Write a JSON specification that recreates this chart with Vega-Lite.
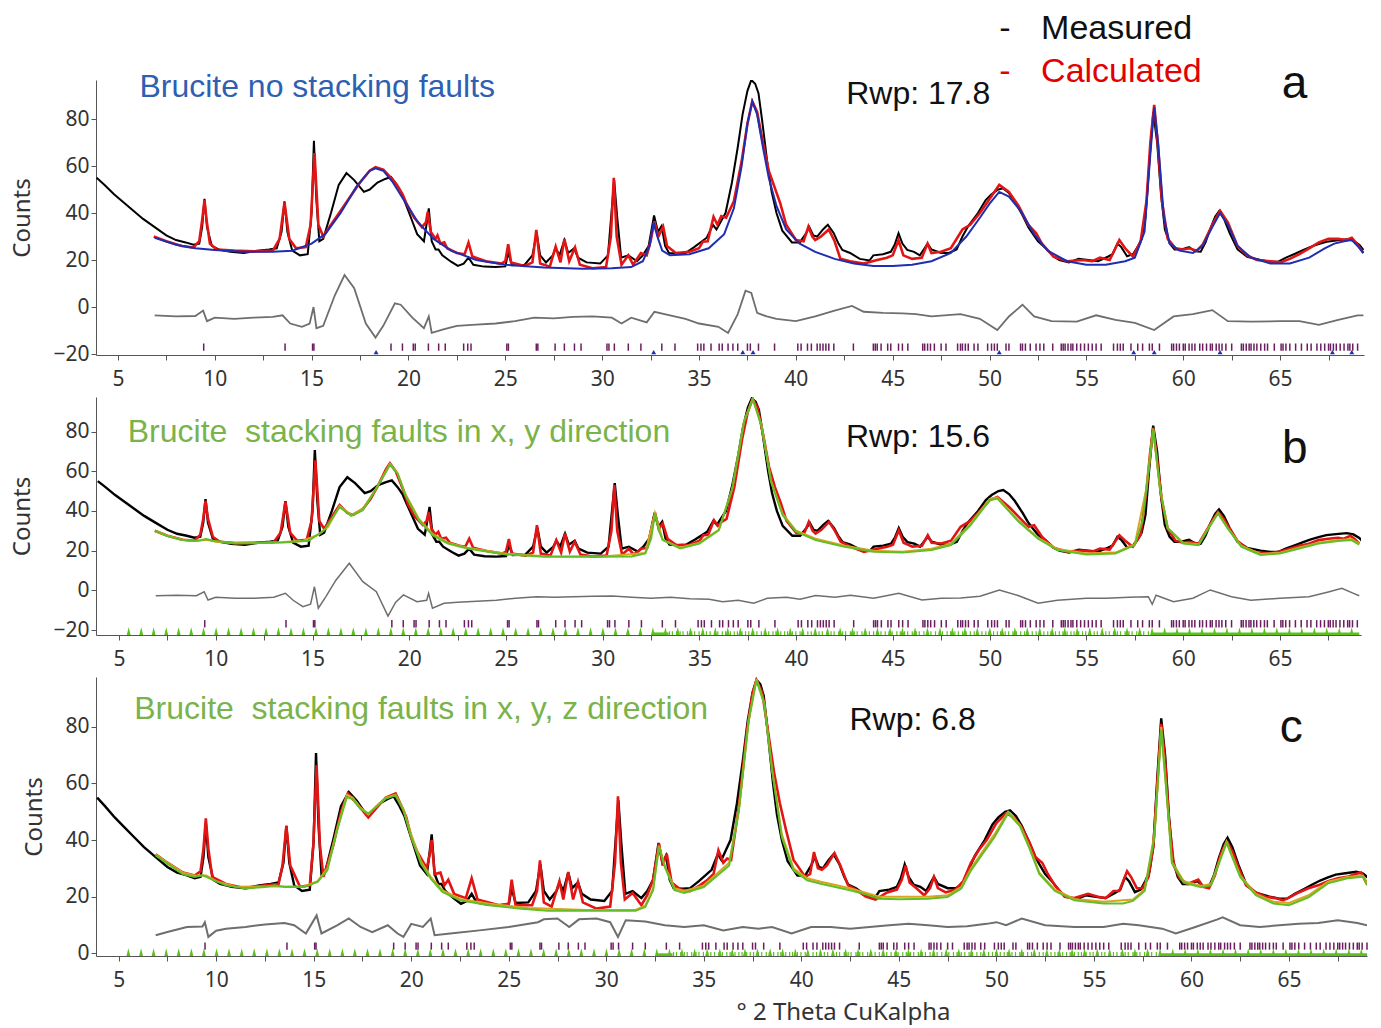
{
"$schema": "https://vega.github.io/schema/vega-lite/v6.json",
"background": "white",
"padding": {"left": 10, "top": 12, "right": 5, "bottom": 1},
"config": {
 "view": {"stroke": null},
 "axis": {"domainColor": "#555", "tickColor": "#555", "labelColor": "#333", "titleColor": "#333", "labelFont": "Noto Sans", "titleFont": "Noto Sans", "labelFontSize": 21, "titleFontSize": 24, "titleFontWeight": "normal", "grid": false, "tickSize": 5},
 "axisX": {"labelPadding": 8},
 "axisY": {"labelPadding": 2, "titlePadding": 18}
},
"datasets": {
 "meas": [{"x":3.9,"y":55},{"x":4.3,"y":52},{"x":4.8,"y":48},{"x":5.3,"y":44.5},{"x":5.8,"y":41},{"x":6.3,"y":37.5},{"x":6.9,"y":34},{"x":7.5,"y":30.5},{"x":8.0,"y":28.5},{"x":8.5,"y":27.5},{"x":8.9,"y":26.5},{"x":9.2,"y":27},{"x":9.35,"y":34},{"x":9.47,"y":46},{"x":9.6,"y":34},{"x":9.85,"y":26},{"x":10.2,"y":24.5},{"x":10.8,"y":23.5},{"x":11.5,"y":23},{"x":12.2,"y":24},{"x":12.8,"y":24.5},{"x":13.2,"y":25},{"x":13.45,"y":32},{"x":13.6,"y":45},{"x":13.75,"y":32},{"x":14.0,"y":24},{"x":14.4,"y":22},{"x":14.8,"y":22.5},{"x":15.0,"y":40},{"x":15.12,"y":70.7},{"x":15.25,"y":45},{"x":15.4,"y":28},{"x":15.6,"y":29},{"x":16.0,"y":40},{"x":16.4,"y":52},{"x":16.8,"y":57},{"x":17.2,"y":54},{"x":17.7,"y":49},{"x":18.0,"y":50},{"x":18.4,"y":53},{"x":18.8,"y":54.5},{"x":19.1,"y":55.4},{"x":19.4,"y":52},{"x":19.65,"y":48.5},{"x":19.85,"y":44},{"x":20.13,"y":38},{"x":20.45,"y":31},{"x":20.8,"y":28},{"x":20.95,"y":36},{"x":21.05,"y":42},{"x":21.2,"y":28},{"x":21.4,"y":24.5},{"x":21.55,"y":24.5},{"x":21.75,"y":22},{"x":22.2,"y":19.3},{"x":22.55,"y":17.5},{"x":22.85,"y":18.5},{"x":23.1,"y":21},{"x":23.35,"y":18},{"x":23.9,"y":17.2},{"x":24.5,"y":17},{"x":25.0,"y":17.3},{"x":25.15,"y":23},{"x":25.35,"y":17.8},{"x":26.0,"y":18},{"x":26.4,"y":22},{"x":26.62,"y":31.5},{"x":26.8,"y":22},{"x":27.1,"y":19},{"x":27.45,"y":22},{"x":27.6,"y":25},{"x":27.8,"y":22},{"x":28.05,"y":28.5},{"x":28.25,"y":23},{"x":28.55,"y":25},{"x":28.75,"y":21},{"x":29.2,"y":19},{"x":29.9,"y":18.5},{"x":30.3,"y":22},{"x":30.48,"y":40},{"x":30.62,"y":54},{"x":30.78,"y":38},{"x":30.98,"y":21},{"x":31.35,"y":22},{"x":31.8,"y":19.5},{"x":32.1,"y":22},{"x":32.4,"y":26},{"x":32.68,"y":39},{"x":32.88,"y":32},{"x":33.07,"y":34.5},{"x":33.25,"y":26},{"x":33.45,"y":23},{"x":33.9,"y":22.8},{"x":34.3,"y":23},{"x":34.75,"y":25.5},{"x":35.4,"y":29.5},{"x":35.72,"y":35},{"x":35.9,"y":33},{"x":36.1,"y":36},{"x":36.37,"y":40},{"x":36.7,"y":53},{"x":37.0,"y":68},{"x":37.25,"y":82},{"x":37.5,"y":92},{"x":37.7,"y":96.6},{"x":37.9,"y":95},{"x":38.07,"y":91},{"x":38.25,"y":80},{"x":38.4,"y":70},{"x":38.55,"y":60},{"x":38.75,"y":49},{"x":39.0,"y":40},{"x":39.3,"y":32.5},{"x":39.8,"y":27.5},{"x":40.2,"y":27.5},{"x":40.5,"y":31},{"x":40.7,"y":34},{"x":40.9,"y":30.5},{"x":41.1,"y":30},{"x":41.4,"y":33},{"x":41.65,"y":35},{"x":41.95,"y":31.5},{"x":42.2,"y":27},{"x":42.4,"y":24.3},{"x":42.8,"y":23},{"x":43.3,"y":20.5},{"x":43.8,"y":19.8},{"x":44.0,"y":22},{"x":44.5,"y":22.5},{"x":44.9,"y":23.5},{"x":45.1,"y":26.5},{"x":45.3,"y":31.4},{"x":45.5,"y":27},{"x":45.75,"y":24.3},{"x":46.1,"y":23.5},{"x":46.4,"y":22},{"x":46.6,"y":24.5},{"x":46.8,"y":27},{"x":47.0,"y":24.5},{"x":47.5,"y":23},{"x":47.9,"y":23},{"x":48.3,"y":24.5},{"x":48.6,"y":30},{"x":48.9,"y":34.5},{"x":49.4,"y":40},{"x":49.8,"y":45.5},{"x":50.1,"y":48},{"x":50.45,"y":50},{"x":50.7,"y":50.5},{"x":51.0,"y":48.5},{"x":51.3,"y":45},{"x":51.7,"y":39},{"x":52.0,"y":34},{"x":52.2,"y":31.5},{"x":52.5,"y":28},{"x":52.9,"y":25},{"x":53.3,"y":21.5},{"x":53.6,"y":20},{"x":54.1,"y":19},{"x":54.6,"y":20.5},{"x":55.1,"y":20},{"x":55.6,"y":19.5},{"x":56.1,"y":21.4},{"x":56.35,"y":22.5},{"x":56.6,"y":27},{"x":56.8,"y":25.5},{"x":57.1,"y":21.6},{"x":57.4,"y":22.5},{"x":57.65,"y":25.7},{"x":57.85,"y":29},{"x":58.05,"y":38},{"x":58.25,"y":62},{"x":58.45,"y":83},{"x":58.65,"y":70},{"x":58.85,"y":48},{"x":59.05,"y":33},{"x":59.3,"y":27},{"x":59.55,"y":24.5},{"x":59.9,"y":24.5},{"x":60.3,"y":25.5},{"x":60.6,"y":23.7},{"x":60.9,"y":23.5},{"x":61.15,"y":27.5},{"x":61.4,"y":33.5},{"x":61.65,"y":38.5},{"x":61.85,"y":40.8},{"x":62.1,"y":37.5},{"x":62.4,"y":31.4},{"x":62.8,"y":24.5},{"x":63.3,"y":21.4},{"x":64.0,"y":20},{"x":64.5,"y":19.3},{"x":64.9,"y":19.3},{"x":65.3,"y":21},{"x":65.8,"y":22.8},{"x":66.2,"y":24.3},{"x":66.6,"y":25.7},{"x":67.0,"y":26.8},{"x":67.4,"y":27.8},{"x":67.9,"y":28.3},{"x":68.45,"y":28.8},{"x":68.8,"y":28.2},{"x":69.1,"y":26.4},{"x":69.3,"y":24.3}],
 "calcA": [{"x":6.85,"y":30},{"x":7.5,"y":28},{"x":8.3,"y":26},{"x":8.9,"y":25.3},{"x":9.2,"y":28},{"x":9.35,"y":37},{"x":9.47,"y":45.5},{"x":9.58,"y":37},{"x":9.75,"y":27},{"x":10.1,"y":24.5},{"x":11,"y":24},{"x":12,"y":23.7},{"x":13,"y":24},{"x":13.35,"y":29},{"x":13.6,"y":44.5},{"x":13.85,"y":29},{"x":14.2,"y":25},{"x":14.7,"y":25.5},{"x":14.95,"y":35},{"x":15.15,"y":65.5},{"x":15.35,"y":35},{"x":15.6,"y":30},{"x":16,"y":35},{"x":16.5,"y":41},{"x":17,"y":47},{"x":17.5,"y":53},{"x":18.0,"y":58},{"x":18.3,"y":59.5},{"x":18.7,"y":58.5},{"x":19.1,"y":55},{"x":19.4,"y":52},{"x":19.7,"y":48},{"x":19.9,"y":44},{"x":20.3,"y":38},{"x":20.7,"y":34},{"x":20.9,"y":36},{"x":21.0,"y":40.5},{"x":21.15,"y":32},{"x":21.4,"y":29},{"x":21.5,"y":30.5},{"x":21.65,"y":27},{"x":21.85,"y":27.5},{"x":22.0,"y":25},{"x":22.5,"y":23},{"x":22.9,"y":22.5},{"x":23.1,"y":27.4},{"x":23.3,"y":21.5},{"x":24,"y":19.5},{"x":24.8,"y":18.5},{"x":25.0,"y":19.5},{"x":25.15,"y":26.7},{"x":25.3,"y":19},{"x":26.0,"y":17.5},{"x":26.4,"y":19},{"x":26.6,"y":32.8},{"x":26.8,"y":18.5},{"x":27.3,"y":17.2},{"x":27.6,"y":25.7},{"x":27.85,"y":19},{"x":28.05,"y":29},{"x":28.3,"y":19.5},{"x":28.6,"y":25.4},{"x":28.85,"y":18},{"x":29.5,"y":16.5},{"x":30.2,"y":17},{"x":30.45,"y":30},{"x":30.6,"y":55},{"x":30.75,"y":30},{"x":31.0,"y":18},{"x":31.35,"y":22},{"x":31.6,"y":18},{"x":32.0,"y":23},{"x":32.3,"y":22},{"x":32.5,"y":28},{"x":32.7,"y":36.5},{"x":32.9,"y":30},{"x":33.15,"y":34.2},{"x":33.35,"y":26},{"x":33.8,"y":23},{"x":34.5,"y":23.5},{"x":35.0,"y":25},{"x":35.2,"y":27.8},{"x":35.45,"y":28},{"x":35.75,"y":38.4},{"x":35.95,"y":35},{"x":36.15,"y":38.7},{"x":36.4,"y":38},{"x":36.8,"y":45},{"x":37.2,"y":62},{"x":37.5,"y":78},{"x":37.75,"y":87.5},{"x":38.0,"y":83},{"x":38.3,"y":70},{"x":38.6,"y":58},{"x":38.9,"y":51},{"x":39.2,"y":44},{"x":39.5,"y":35},{"x":40.0,"y":28.5},{"x":40.4,"y":28},{"x":40.65,"y":34.2},{"x":40.85,"y":30},{"x":41.0,"y":28.5},{"x":41.3,"y":30},{"x":41.7,"y":33},{"x":42.0,"y":28},{"x":42.3,"y":20.5},{"x":42.8,"y":19.5},{"x":43.5,"y":18.5},{"x":44.2,"y":20},{"x":44.7,"y":21},{"x":45.0,"y":22},{"x":45.3,"y":28.5},{"x":45.55,"y":22},{"x":46.0,"y":20.5},{"x":46.5,"y":21},{"x":46.8,"y":27},{"x":47.0,"y":23},{"x":47.5,"y":23.5},{"x":48.0,"y":25},{"x":48.6,"y":33},{"x":49.0,"y":35},{"x":49.5,"y":40},{"x":50.0,"y":46},{"x":50.5,"y":52},{"x":51.0,"y":49},{"x":51.5,"y":43},{"x":52.0,"y":35},{"x":52.4,"y":31.5},{"x":52.7,"y":27},{"x":53.3,"y":21.5},{"x":54.0,"y":19.5},{"x":54.8,"y":20},{"x":55.3,"y":19.5},{"x":55.7,"y":21},{"x":56.2,"y":20},{"x":56.7,"y":28.5},{"x":57.0,"y":25},{"x":57.4,"y":21.5},{"x":57.8,"y":28},{"x":58.1,"y":45},{"x":58.3,"y":70},{"x":58.5,"y":86},{"x":58.7,"y":68},{"x":58.9,"y":45},{"x":59.2,"y":29},{"x":59.6,"y":25},{"x":60.0,"y":24.5},{"x":60.3,"y":25},{"x":60.7,"y":24},{"x":61.0,"y":26.5},{"x":61.5,"y":35},{"x":61.9,"y":41},{"x":62.3,"y":36},{"x":62.8,"y":26},{"x":63.3,"y":22},{"x":63.8,"y":20},{"x":64.5,"y":19.5},{"x":65.0,"y":19},{"x":65.5,"y":20.5},{"x":66.0,"y":22.5},{"x":66.5,"y":25},{"x":67.0,"y":27.5},{"x":67.5,"y":29},{"x":68.0,"y":29},{"x":68.4,"y":28.5},{"x":68.7,"y":29.5},{"x":69.0,"y":26.5},{"x":69.3,"y":23}],
 "bkgA": [{"x":6.9,"y":29.5},{"x":8,"y":26.5},{"x":9,"y":25},{"x":10,"y":24.3},{"x":11.5,"y":23.5},{"x":13,"y":23.5},{"x":14,"y":24},{"x":15,"y":27},{"x":15.7,"y":31},{"x":16.5,"y":40},{"x":17.3,"y":51},{"x":18.0,"y":58},{"x":18.3,"y":59},{"x":18.7,"y":58},{"x":19.2,"y":53},{"x":19.8,"y":45},{"x":20.5,"y":36},{"x":21.3,"y":29},{"x":22.2,"y":24},{"x":23.5,"y":20},{"x":25,"y":18},{"x":27,"y":16.8},{"x":29,"y":16.3},{"x":30.5,"y":16.5},{"x":31.5,"y":17},{"x":32.1,"y":19.5},{"x":32.45,"y":26},{"x":32.65,"y":36},{"x":32.85,"y":30},{"x":33.1,"y":24},{"x":33.5,"y":22},{"x":34.5,"y":22.5},{"x":35.5,"y":25},{"x":36.3,"y":31},{"x":36.8,"y":42},{"x":37.2,"y":60},{"x":37.5,"y":78},{"x":37.75,"y":87.5},{"x":38.0,"y":82},{"x":38.3,"y":68},{"x":38.6,"y":55},{"x":39.0,"y":43},{"x":39.5,"y":33},{"x":40.2,"y":27},{"x":41,"y":23.5},{"x":42,"y":20.5},{"x":43,"y":18.5},{"x":44,"y":17.5},{"x":45,"y":17.5},{"x":46,"y":18},{"x":47,"y":19.5},{"x":48,"y":23},{"x":48.8,"y":30},{"x":49.5,"y":38},{"x":50.0,"y":44},{"x":50.5,"y":49},{"x":51.0,"y":47},{"x":51.6,"y":41},{"x":52.3,"y":31},{"x":53,"y":24},{"x":54,"y":19.5},{"x":55,"y":18},{"x":56,"y":18},{"x":57,"y":19.5},{"x":57.5,"y":21},{"x":58.0,"y":32},{"x":58.3,"y":65},{"x":58.5,"y":85},{"x":58.7,"y":70},{"x":59.0,"y":38},{"x":59.3,"y":27},{"x":59.8,"y":24},{"x":60.5,"y":23},{"x":61.0,"y":26},{"x":61.5,"y":34},{"x":61.9,"y":40},{"x":62.3,"y":35},{"x":62.8,"y":26},{"x":63.5,"y":21},{"x":64.5,"y":18.5},{"x":65.5,"y":18.5},{"x":66.5,"y":21},{"x":67.3,"y":25},{"x":67.8,"y":27},{"x":68.3,"y":28},{"x":68.7,"y":28.5},{"x":69.0,"y":26},{"x":69.3,"y":23}],
 "diffA": [{"x":6.9,"y":-3.5},{"x":8,"y":-4},{"x":9.0,"y":-3.8},{"x":9.4,"y":-1.5},{"x":9.6,"y":-6},{"x":10,"y":-4.5},{"x":11,"y":-5},{"x":12,"y":-4.5},{"x":13,"y":-4.2},{"x":13.5,"y":-3.5},{"x":13.9,"y":-7},{"x":14.5,"y":-8.4},{"x":14.9,"y":-7},{"x":15.1,"y":0},{"x":15.25,"y":-9},{"x":15.6,"y":-8},{"x":16.2,"y":5},{"x":16.7,"y":13.6},{"x":17.2,"y":8},{"x":17.8,"y":-7},{"x":18.3,"y":-13},{"x":18.7,"y":-8},{"x":19.3,"y":1.6},{"x":19.6,"y":1},{"x":20.2,"y":-4.5},{"x":20.8,"y":-9},{"x":21.05,"y":-4},{"x":21.2,"y":-11},{"x":21.8,"y":-9.5},{"x":22.5,"y":-8},{"x":23.5,"y":-7.5},{"x":24.5,"y":-7},{"x":25.5,"y":-6},{"x":26.5,"y":-4.5},{"x":27.5,"y":-4.8},{"x":28.5,"y":-4.2},{"x":29.5,"y":-4},{"x":30.5,"y":-4.5},{"x":31,"y":-7},{"x":31.5,"y":-4.5},{"x":32.3,"y":-6.5},{"x":32.7,"y":-2},{"x":33.5,"y":-3.5},{"x":34.3,"y":-5},{"x":35,"y":-7},{"x":36,"y":-8.4},{"x":36.5,"y":-11},{"x":37.0,"y":-3},{"x":37.4,"y":7},{"x":37.7,"y":6},{"x":38.0,"y":-2.5},{"x":38.5,"y":-4},{"x":39,"y":-5},{"x":40,"y":-6},{"x":41,"y":-4},{"x":42,"y":-1.5},{"x":42.9,"y":0.5},{"x":43.5,"y":-2},{"x":44.5,"y":-2.5},{"x":45.5,"y":-2.7},{"x":46.2,"y":-3},{"x":47,"y":-4},{"x":48.5,"y":-3},{"x":49.5,"y":-5},{"x":50.4,"y":-9.8},{"x":51.0,"y":-4},{"x":51.7,"y":1},{"x":52.3,"y":-4},{"x":53.2,"y":-6},{"x":54.5,"y":-6.2},{"x":55.5,"y":-3.5},{"x":56.5,"y":-5.5},{"x":57.5,"y":-6.7},{"x":58.5,"y":-9.8},{"x":59.5,"y":-4},{"x":60.5,"y":-3},{"x":61.5,"y":-1.3},{"x":62.3,"y":-6},{"x":63.5,"y":-6.2},{"x":65,"y":-6},{"x":66,"y":-6},{"x":67,"y":-7.6},{"x":68,"y":-5.5},{"x":69,"y":-3.5},{"x":69.3,"y":-3.5}],
 "calcB": [{"x":6.85,"y":30},{"x":7.5,"y":27.5},{"x":8.3,"y":25.5},{"x":8.9,"y":25},{"x":9.2,"y":28},{"x":9.35,"y":36},{"x":9.47,"y":45},{"x":9.6,"y":36},{"x":9.85,"y":27},{"x":10.2,"y":24.5},{"x":11,"y":23.8},{"x":12,"y":24},{"x":13,"y":24.3},{"x":13.35,"y":29},{"x":13.6,"y":44.6},{"x":13.85,"y":29},{"x":14.2,"y":25},{"x":14.7,"y":25.5},{"x":14.95,"y":35},{"x":15.15,"y":65.5},{"x":15.35,"y":35},{"x":15.6,"y":31},{"x":16.0,"y":37},{"x":16.4,"y":43},{"x":16.8,"y":39},{"x":17.1,"y":38},{"x":17.6,"y":41},{"x":18.0,"y":46},{"x":18.4,"y":53},{"x":18.8,"y":61},{"x":19.0,"y":64},{"x":19.3,"y":60},{"x":19.55,"y":54},{"x":19.75,"y":49},{"x":19.95,"y":43},{"x":20.3,"y":37},{"x":20.7,"y":33},{"x":20.9,"y":35},{"x":21.0,"y":39.5},{"x":21.15,"y":31},{"x":21.35,"y":28},{"x":21.5,"y":29.5},{"x":21.65,"y":26},{"x":21.9,"y":26.5},{"x":22.1,"y":24},{"x":22.6,"y":22.5},{"x":22.9,"y":22},{"x":23.1,"y":26},{"x":23.3,"y":21.5},{"x":24,"y":19.8},{"x":24.8,"y":18.5},{"x":25.0,"y":19.5},{"x":25.15,"y":25.8},{"x":25.3,"y":18.5},{"x":26.0,"y":17.5},{"x":26.4,"y":19},{"x":26.6,"y":32.8},{"x":26.8,"y":18.5},{"x":27.3,"y":17.5},{"x":27.6,"y":25.3},{"x":27.85,"y":19},{"x":28.05,"y":28.6},{"x":28.3,"y":19.5},{"x":28.55,"y":24.5},{"x":28.85,"y":18},{"x":29.5,"y":17},{"x":30.2,"y":17.5},{"x":30.45,"y":30},{"x":30.6,"y":53},{"x":30.75,"y":30},{"x":31.0,"y":18},{"x":31.35,"y":21},{"x":31.6,"y":18},{"x":32.0,"y":21},{"x":32.3,"y":21.5},{"x":32.5,"y":30},{"x":32.7,"y":39.2},{"x":32.9,"y":31},{"x":33.1,"y":33.7},{"x":33.35,"y":26},{"x":33.8,"y":22.8},{"x":34.5,"y":23},{"x":35.0,"y":25},{"x":35.2,"y":27.8},{"x":35.45,"y":28},{"x":35.75,"y":35.3},{"x":35.95,"y":32.5},{"x":36.15,"y":34.5},{"x":36.4,"y":36},{"x":36.8,"y":52},{"x":37.2,"y":76},{"x":37.5,"y":90},{"x":37.75,"y":96.5},{"x":38.0,"y":92},{"x":38.3,"y":78},{"x":38.6,"y":62},{"x":38.9,"y":52},{"x":39.2,"y":44},{"x":39.5,"y":35},{"x":40.0,"y":29},{"x":40.4,"y":28.5},{"x":40.65,"y":34.5},{"x":40.85,"y":30},{"x":41.0,"y":28.6},{"x":41.3,"y":30.5},{"x":41.7,"y":34.5},{"x":42.0,"y":30},{"x":42.3,"y":24.5},{"x":42.8,"y":22},{"x":43.5,"y":19.4},{"x":44.2,"y":21},{"x":44.7,"y":22},{"x":45.0,"y":23},{"x":45.3,"y":30.3},{"x":45.55,"y":24},{"x":46.0,"y":22},{"x":46.5,"y":22.5},{"x":46.8,"y":27.8},{"x":47.0,"y":24},{"x":47.5,"y":23.6},{"x":48.0,"y":25},{"x":48.5,"y":32},{"x":49.0,"y":35},{"x":49.5,"y":40},{"x":50.0,"y":45.5},{"x":50.4,"y":47},{"x":51.0,"y":42},{"x":51.5,"y":37},{"x":52.0,"y":32},{"x":52.3,"y":32.8},{"x":52.7,"y":27},{"x":53.3,"y":21.5},{"x":54.0,"y":19.5},{"x":54.8,"y":20},{"x":55.3,"y":19.5},{"x":55.7,"y":21},{"x":56.2,"y":20.5},{"x":56.7,"y":27.8},{"x":57.0,"y":25},{"x":57.4,"y":22},{"x":57.8,"y":28},{"x":58.1,"y":50},{"x":58.3,"y":70},{"x":58.45,"y":82},{"x":58.7,"y":62},{"x":58.9,"y":45},{"x":59.2,"y":31},{"x":59.6,"y":25},{"x":60.0,"y":24},{"x":60.3,"y":24.5},{"x":60.8,"y":23.5},{"x":61.2,"y":30},{"x":61.5,"y":35},{"x":61.8,"y":39.5},{"x":62.1,"y":36},{"x":62.4,"y":31},{"x":62.8,"y":25},{"x":63.3,"y":21},{"x":63.8,"y":19},{"x":64.5,"y":18.7},{"x":65.0,"y":19.5},{"x":65.5,"y":21},{"x":66.0,"y":22.5},{"x":66.5,"y":23.5},{"x":67.0,"y":25.3},{"x":67.5,"y":26},{"x":68.0,"y":26.5},{"x":68.3,"y":26},{"x":68.65,"y":27.5},{"x":68.9,"y":25.5},{"x":69.1,"y":23.5}],
 "oraB": [{"x":6.85,"y":30},{"x":7.5,"y":27.5},{"x":8.3,"y":25.5},{"x":9,"y":24.8},{"x":9.5,"y":25.5},{"x":10,"y":24.5},{"x":11,"y":23.8},{"x":12.5,"y":24},{"x":13.5,"y":24.3},{"x":14.5,"y":25},{"x":15.3,"y":28},{"x":15.8,"y":32},{"x":16.4,"y":42.5},{"x":17.0,"y":38},{"x":17.6,"y":41},{"x":18.3,"y":51.5},{"x":19.0,"y":63.8},{"x":19.4,"y":59},{"x":19.8,"y":48.5},{"x":20.5,"y":36},{"x":21.2,"y":28.5},{"x":22,"y":24},{"x":23,"y":21.5},{"x":25,"y":18.5},{"x":27,"y":17.2},{"x":30,"y":17},{"x":32.2,"y":18.8},{"x":32.7,"y":39},{"x":33.1,"y":25.5},{"x":34,"y":21.5},{"x":35,"y":24},{"x":36,"y":30.5},{"x":36.7,"y":51.5},{"x":37.3,"y":85},{"x":37.75,"y":96.5},{"x":38.2,"y":83.5},{"x":38.7,"y":55},{"x":39.3,"y":38.5},{"x":40,"y":30},{"x":41,"y":26},{"x":42.5,"y":22.5},{"x":44,"y":20},{"x":45.5,"y":19.5},{"x":47,"y":21},{"x":48,"y":23.5},{"x":49,"y":33.5},{"x":50,"y":46},{"x":50.4,"y":46.8},{"x":51.5,"y":35},{"x":52.5,"y":26.5},{"x":53.5,"y":20.8},{"x":55,"y":18.6},{"x":56.5,"y":19},{"x":57.5,"y":23.2},{"x":58.1,"y":51.5},{"x":58.45,"y":81.5},{"x":58.8,"y":51.5},{"x":59.2,"y":31.5},{"x":60,"y":24},{"x":60.8,"y":23.2},{"x":61.3,"y":31.5},{"x":61.8,"y":39},{"x":62.3,"y":31.5},{"x":63,"y":22.5},{"x":64,"y":18.3},{"x":65,"y":19},{"x":66,"y":21.6},{"x":67,"y":24},{"x":68,"y":25.3},{"x":68.7,"y":25.8},{"x":69.1,"y":23.5}],
 "bkgB": [{"x":6.85,"y":30},{"x":7.5,"y":27.3},{"x":8.2,"y":25.5},{"x":8.8,"y":24.8},{"x":9.2,"y":25.2},{"x":9.5,"y":25.8},{"x":9.9,"y":25},{"x":11,"y":23.6},{"x":12.2,"y":23.8},{"x":13.5,"y":24.1},{"x":14.8,"y":25},{"x":15.6,"y":30.2},{"x":16.0,"y":36},{"x":16.4,"y":42},{"x":17.0,"y":37.5},{"x":17.6,"y":40.4},{"x":18.3,"y":51.3},{"x":18.7,"y":58},{"x":19.0,"y":63.3},{"x":19.4,"y":58.8},{"x":19.8,"y":47.9},{"x":20.5,"y":35.3},{"x":21.2,"y":27.8},{"x":22,"y":23.6},{"x":23,"y":21.1},{"x":25,"y":18.1},{"x":27,"y":16.9},{"x":29.5,"y":16.9},{"x":31.5,"y":17},{"x":32.2,"y":18.6},{"x":32.5,"y":26},{"x":32.7,"y":38.7},{"x":32.9,"y":30},{"x":33.1,"y":25.3},{"x":34,"y":21.1},{"x":35,"y":23.6},{"x":36,"y":30.3},{"x":36.7,"y":51.3},{"x":37.3,"y":84.8},{"x":37.75,"y":96.5},{"x":38.2,"y":83},{"x":38.7,"y":54.6},{"x":39.3,"y":37.8},{"x":40,"y":29.5},{"x":41,"y":25.3},{"x":42.5,"y":22},{"x":44,"y":19.4},{"x":45.5,"y":19},{"x":47,"y":20.3},{"x":48,"y":22.8},{"x":49,"y":32.8},{"x":50,"y":45.4},{"x":50.4,"y":46.2},{"x":51.5,"y":34.5},{"x":52.5,"y":26},{"x":53.5,"y":20.3},{"x":55,"y":18.1},{"x":56.5,"y":18.6},{"x":57.5,"y":22.8},{"x":57.9,"y":35},{"x":58.1,"y":51.3},{"x":58.45,"y":81.4},{"x":58.8,"y":51},{"x":59.2,"y":31.2},{"x":60,"y":23.6},{"x":60.8,"y":22.8},{"x":61.3,"y":31.2},{"x":61.8,"y":38.7},{"x":62.3,"y":31.2},{"x":63,"y":22},{"x":64,"y":17.8},{"x":65,"y":18.6},{"x":66,"y":21.1},{"x":67,"y":23.6},{"x":68,"y":24.8},{"x":68.7,"y":25.3},{"x":69.1,"y":23}],
 "diffB": [{"x":6.9,"y":-2.7},{"x":8,"y":-2.5},{"x":9.0,"y":-2.7},{"x":9.4,"y":-0.7},{"x":9.6,"y":-4.9},{"x":10,"y":-3.5},{"x":11,"y":-4},{"x":12,"y":-4},{"x":13,"y":-3.5},{"x":13.6,"y":-1.5},{"x":14.0,"y":-5},{"x":14.5,"y":-8.2},{"x":14.9,"y":-7},{"x":15.1,"y":1.8},{"x":15.3,"y":-9},{"x":15.7,"y":-3},{"x":16.2,"y":5},{"x":16.9,"y":13.6},{"x":17.6,"y":4.4},{"x":18.3,"y":-0.7},{"x":18.9,"y":-13},{"x":19.3,"y":-6},{"x":19.7,"y":-2.3},{"x":20.4,"y":-5.7},{"x":20.9,"y":-5},{"x":21.0,"y":-1.5},{"x":21.2,"y":-9},{"x":21.8,"y":-6.5},{"x":22.5,"y":-6},{"x":23.5,"y":-5.5},{"x":24.5,"y":-5},{"x":25.5,"y":-4},{"x":26.6,"y":-3.2},{"x":27.5,"y":-3.5},{"x":28.5,"y":-3.2},{"x":29.5,"y":-3},{"x":30.5,"y":-2.8},{"x":31.5,"y":-3.5},{"x":32.5,"y":-4},{"x":33.5,"y":-3.5},{"x":34.5,"y":-4.2},{"x":35.5,"y":-4.5},{"x":36.2,"y":-5.7},{"x":37,"y":-5},{"x":37.8,"y":-6.5},{"x":38.5,"y":-4},{"x":39.5,"y":-3.5},{"x":40.2,"y":-4.5},{"x":41,"y":-2.6},{"x":42,"y":-3.5},{"x":42.8,"y":-2.5},{"x":44,"y":-4},{"x":45.3,"y":-1.5},{"x":46.5,"y":-4.9},{"x":47.5,"y":-4},{"x":48.5,"y":-3.8},{"x":49.5,"y":-3},{"x":50.5,"y":0.2},{"x":51.5,"y":-2.7},{"x":52.5,"y":-6.5},{"x":53.5,"y":-5},{"x":55,"y":-4},{"x":56,"y":-4},{"x":57.2,"y":-3.5},{"x":58.2,"y":-3.2},{"x":58.4,"y":-7},{"x":58.6,"y":-2.5},{"x":59.5,"y":-5.7},{"x":60.5,"y":-4},{"x":61.4,"y":0.2},{"x":62.5,"y":-3.2},{"x":63.5,"y":-5},{"x":65,"y":-4},{"x":66.5,"y":-3.2},{"x":67.5,"y":-0.8},{"x":68.2,"y":1},{"x":68.8,"y":-1.5},{"x":69.1,"y":-2.7}],
 "calcC": [{"x":6.9,"y":35},{"x":7.5,"y":32},{"x":8.3,"y":28.5},{"x":8.9,"y":27.5},{"x":9.2,"y":29},{"x":9.35,"y":37},{"x":9.47,"y":47.7},{"x":9.6,"y":37},{"x":9.8,"y":27},{"x":10.5,"y":24.5},{"x":11.5,"y":23},{"x":12.5,"y":24},{"x":13.2,"y":24.5},{"x":13.4,"y":31},{"x":13.6,"y":45},{"x":13.8,"y":31},{"x":14.3,"y":23.5},{"x":14.8,"y":24},{"x":14.98,"y":38},{"x":15.15,"y":66.5},{"x":15.32,"y":38},{"x":15.5,"y":27},{"x":16.0,"y":38},{"x":16.4,"y":50},{"x":16.75,"y":56.5},{"x":17.2,"y":53},{"x":17.8,"y":48},{"x":18.3,"y":52},{"x":18.7,"y":55},{"x":19.2,"y":56.5},{"x":19.5,"y":52},{"x":19.75,"y":48},{"x":20.0,"y":41},{"x":20.3,"y":36},{"x":20.8,"y":30},{"x":20.95,"y":35},{"x":21.05,"y":40},{"x":21.2,"y":28},{"x":21.5,"y":28.5},{"x":21.7,"y":24},{"x":21.9,"y":26},{"x":22.2,"y":21},{"x":22.8,"y":19.5},{"x":23.1,"y":26.5},{"x":23.4,"y":19},{"x":24.5,"y":17},{"x":25.0,"y":17.5},{"x":25.15,"y":26},{"x":25.35,"y":17},{"x":26.2,"y":17},{"x":26.45,"y":22},{"x":26.6,"y":32.8},{"x":26.8,"y":18},{"x":27.2,"y":16.5},{"x":27.6,"y":25.5},{"x":27.8,"y":19},{"x":28.05,"y":28.7},{"x":28.3,"y":19},{"x":28.55,"y":25.2},{"x":28.8,"y":18},{"x":29.5,"y":15.8},{"x":30.2,"y":16.5},{"x":30.45,"y":32},{"x":30.6,"y":55.5},{"x":30.75,"y":32},{"x":30.95,"y":19},{"x":31.35,"y":21.3},{"x":31.8,"y":17},{"x":32.1,"y":20.5},{"x":32.4,"y":26},{"x":32.7,"y":38.8},{"x":32.9,"y":31},{"x":33.1,"y":35.2},{"x":33.35,"y":25},{"x":33.8,"y":22.5},{"x":34.3,"y":22},{"x":34.8,"y":24},{"x":35.2,"y":26},{"x":35.5,"y":28},{"x":35.75,"y":36.4},{"x":36.0,"y":32},{"x":36.2,"y":33.5},{"x":36.4,"y":33},{"x":36.8,"y":52},{"x":37.2,"y":78},{"x":37.5,"y":92},{"x":37.7,"y":96.5},{"x":38.0,"y":92},{"x":38.3,"y":78},{"x":38.6,"y":64},{"x":38.9,"y":53},{"x":39.2,"y":44},{"x":39.6,"y":33},{"x":40.2,"y":27},{"x":40.45,"y":28},{"x":40.65,"y":35.8},{"x":40.85,"y":30},{"x":41.05,"y":29.5},{"x":41.3,"y":31},{"x":41.7,"y":35.4},{"x":42.0,"y":31},{"x":42.4,"y":24},{"x":42.8,"y":22.5},{"x":43.3,"y":20},{"x":43.8,"y":19},{"x":44.4,"y":21.5},{"x":44.9,"y":22.5},{"x":45.15,"y":26},{"x":45.35,"y":31},{"x":45.55,"y":25},{"x":45.9,"y":23},{"x":46.3,"y":20.5},{"x":46.6,"y":23},{"x":46.8,"y":27},{"x":47.0,"y":23},{"x":47.4,"y":21.5},{"x":47.9,"y":22.5},{"x":48.3,"y":25.5},{"x":48.7,"y":32},{"x":49.1,"y":36.5},{"x":49.5,"y":40},{"x":50.0,"y":46},{"x":50.5,"y":49.5},{"x":50.9,"y":48},{"x":51.3,"y":44.5},{"x":51.7,"y":39},{"x":52.0,"y":34},{"x":52.35,"y":32},{"x":52.6,"y":28.5},{"x":53.0,"y":24},{"x":53.5,"y":20},{"x":54.0,"y":19.5},{"x":54.7,"y":21},{"x":55.2,"y":20},{"x":55.6,"y":19.5},{"x":56.0,"y":22},{"x":56.3,"y":22},{"x":56.7,"y":29},{"x":56.9,"y":27},{"x":57.2,"y":23},{"x":57.5,"y":23},{"x":57.8,"y":27},{"x":58.05,"y":38},{"x":58.25,"y":60},{"x":58.45,"y":81},{"x":58.65,"y":68},{"x":58.85,"y":47},{"x":59.1,"y":31},{"x":59.4,"y":26.5},{"x":59.8,"y":24.5},{"x":60.35,"y":26},{"x":60.6,"y":23.5},{"x":60.9,"y":23},{"x":61.2,"y":27.5},{"x":61.5,"y":35},{"x":61.8,"y":39.5},{"x":62.1,"y":36},{"x":62.4,"y":30.5},{"x":62.8,"y":24},{"x":63.3,"y":21.5},{"x":63.8,"y":20},{"x":64.3,"y":19.5},{"x":64.7,"y":18.7},{"x":65.1,"y":20},{"x":65.5,"y":21.5},{"x":66.0,"y":23},{"x":66.5,"y":24},{"x":67.0,"y":25.5},{"x":67.5,"y":26.5},{"x":68.0,"y":27},{"x":68.4,"y":28},{"x":68.7,"y":28.5},{"x":69.0,"y":24.5}],
 "oraC": [{"x":6.9,"y":35},{"x":7.5,"y":32},{"x":8.3,"y":28.5},{"x":8.9,"y":27.5},{"x":9.5,"y":27.5},{"x":10,"y":25.5},{"x":11,"y":23.5},{"x":12.5,"y":23.6},{"x":13.5,"y":23.6},{"x":14.5,"y":23.6},{"x":15.2,"y":25.5},{"x":15.7,"y":30},{"x":16.2,"y":44},{"x":16.7,"y":56},{"x":17.0,"y":55},{"x":17.4,"y":51.5},{"x":17.8,"y":49},{"x":18.2,"y":52},{"x":18.7,"y":55},{"x":19.2,"y":56},{"x":19.6,"y":51},{"x":20.0,"y":42},{"x":20.5,"y":32.5},{"x":21.0,"y":27},{"x":21.6,"y":22.3},{"x":22.5,"y":19.2},{"x":24,"y":17.5},{"x":26,"y":16},{"x":29,"y":15.3},{"x":31.5,"y":15.3},{"x":32.0,"y":16.8},{"x":32.4,"y":22.8},{"x":32.7,"y":38},{"x":33.0,"y":31},{"x":33.5,"y":23},{"x":34,"y":22},{"x":35,"y":24},{"x":36.3,"y":32},{"x":36.8,"y":51},{"x":37.3,"y":82.5},{"x":37.7,"y":97},{"x":38.1,"y":88.5},{"x":38.5,"y":65},{"x":39.0,"y":42},{"x":39.6,"y":30},{"x":40.3,"y":26.5},{"x":41,"y":25.3},{"x":42.5,"y":23},{"x":44,"y":20},{"x":46.5,"y":20},{"x":47.5,"y":20.5},{"x":48.2,"y":23.5},{"x":48.7,"y":30},{"x":49.3,"y":36},{"x":49.9,"y":42},{"x":50.6,"y":50},{"x":51.2,"y":45.5},{"x":51.7,"y":37.5},{"x":52.2,"y":28.5},{"x":53,"y":22.5},{"x":54,"y":19.2},{"x":55.5,"y":18.2},{"x":57,"y":19},{"x":57.6,"y":22.5},{"x":58.1,"y":42},{"x":58.45,"y":80},{"x":58.8,"y":50.5},{"x":59.0,"y":32.3},{"x":59.6,"y":25.5},{"x":60.5,"y":23.8},{"x":61.0,"y":24.5},{"x":61.8,"y":39.5},{"x":62.5,"y":27.5},{"x":63.3,"y":21},{"x":64.2,"y":18.2},{"x":65,"y":17.8},{"x":66,"y":20.5},{"x":67,"y":25.3},{"x":68,"y":27},{"x":68.8,"y":27.5},{"x":69.0,"y":24.5}],
 "bkgC": [{"x":6.9,"y":34.6},{"x":7.5,"y":31.7},{"x":8.3,"y":27.9},{"x":8.9,"y":27},{"x":9.3,"y":27.6},{"x":9.8,"y":26},{"x":10.5,"y":24},{"x":11.5,"y":22.9},{"x":12.5,"y":23.4},{"x":13.0,"y":24},{"x":13.5,"y":23.4},{"x":14.5,"y":23.4},{"x":15.2,"y":25.2},{"x":15.7,"y":29.3},{"x":16.2,"y":43.5},{"x":16.7,"y":55.2},{"x":17.0,"y":54.5},{"x":17.4,"y":51},{"x":17.8,"y":49.4},{"x":18.2,"y":51.7},{"x":18.7,"y":54.7},{"x":19.2,"y":55.8},{"x":19.6,"y":50.5},{"x":20.0,"y":41},{"x":20.5,"y":31.7},{"x":21.0,"y":26.4},{"x":21.6,"y":21.7},{"x":22.5,"y":18.7},{"x":24,"y":17},{"x":25.5,"y":15.8},{"x":27,"y":15},{"x":29,"y":15},{"x":31.5,"y":15},{"x":32.0,"y":16.4},{"x":32.4,"y":22.3},{"x":32.7,"y":37.6},{"x":33.0,"y":30.5},{"x":33.5,"y":22.3},{"x":34,"y":21.3},{"x":35,"y":23.4},{"x":36.3,"y":31},{"x":36.8,"y":50.5},{"x":37.3,"y":82},{"x":37.7,"y":96.5},{"x":38.1,"y":88},{"x":38.5,"y":64.7},{"x":39.0,"y":41},{"x":39.6,"y":29.3},{"x":40.3,"y":25.8},{"x":41,"y":24.6},{"x":42.5,"y":22.3},{"x":43.2,"y":21},{"x":44,"y":19.3},{"x":45,"y":19.1},{"x":46.5,"y":19.3},{"x":47.5,"y":19.9},{"x":48.2,"y":22.9},{"x":48.7,"y":29.3},{"x":49.3,"y":35.2},{"x":49.9,"y":41},{"x":50.6,"y":49.5},{"x":51.2,"y":45},{"x":51.7,"y":37},{"x":52.2,"y":28},{"x":53,"y":22},{"x":54,"y":18.7},{"x":55.5,"y":17.6},{"x":56.5,"y":17.6},{"x":57,"y":18.5},{"x":57.6,"y":22},{"x":58.1,"y":41},{"x":58.45,"y":79},{"x":58.8,"y":50},{"x":59.0,"y":31.8},{"x":59.6,"y":25},{"x":60.5,"y":23.3},{"x":61.0,"y":24},{"x":61.8,"y":39},{"x":62.5,"y":27},{"x":63.3,"y":20.5},{"x":64.2,"y":17.6},{"x":65,"y":17},{"x":66,"y":19.8},{"x":67,"y":24.7},{"x":68,"y":26.5},{"x":68.8,"y":27},{"x":69.0,"y":24}],
 "diffC": [{"x":6.9,"y":6.4},{"x":7.5,"y":7.5},{"x":8.5,"y":9.3},{"x":9.3,"y":9.5},{"x":9.42,"y":11},{"x":9.6,"y":5.8},{"x":10,"y":8},{"x":10.5,"y":8.7},{"x":11.5,"y":9.3},{"x":12.5,"y":10.2},{"x":13.5,"y":10.7},{"x":14.0,"y":9.9},{"x":14.6,"y":7},{"x":15.15,"y":13.4},{"x":15.4,"y":7},{"x":16.2,"y":9.9},{"x":16.8,"y":12.3},{"x":17.4,"y":9.3},{"x":18.0,"y":7.5},{"x":18.8,"y":9.9},{"x":19.3,"y":7},{"x":19.6,"y":5.8},{"x":20.0,"y":10.4},{"x":20.6,"y":9.3},{"x":21.0,"y":12.3},{"x":21.2,"y":6.4},{"x":22.0,"y":7},{"x":23.5,"y":8.1},{"x":25,"y":9.3},{"x":26.5,"y":11},{"x":26.8,"y":12},{"x":27.5,"y":12.3},{"x":28.1,"y":9.3},{"x":28.6,"y":12},{"x":29.5,"y":12.3},{"x":30.2,"y":11},{"x":30.6,"y":5.8},{"x":31.0,"y":11.7},{"x":32,"y":11.2},{"x":33,"y":9.9},{"x":34,"y":9.3},{"x":35,"y":9.9},{"x":36,"y":8.1},{"x":37,"y":9.3},{"x":37.8,"y":8.7},{"x":38.5,"y":9.3},{"x":39.5,"y":7},{"x":40.5,"y":9.3},{"x":41.5,"y":9.3},{"x":42.5,"y":8.7},{"x":43.5,"y":9.3},{"x":44.5,"y":9.9},{"x":45.5,"y":10.4},{"x":46.5,"y":9.9},{"x":47.5,"y":9.3},{"x":48.5,"y":9.6},{"x":49.5,"y":10.4},{"x":50,"y":11},{"x":50.5,"y":9.9},{"x":51.3,"y":12.3},{"x":52.5,"y":9.9},{"x":54,"y":9.3},{"x":55.5,"y":9.3},{"x":56.5,"y":10.4},{"x":57.3,"y":9.9},{"x":58.5,"y":8.7},{"x":59.2,"y":7},{"x":60.2,"y":9.3},{"x":61.3,"y":11.9},{"x":61.6,"y":12.7},{"x":62.5,"y":9.9},{"x":63.5,"y":9.3},{"x":64.5,"y":9.9},{"x":65.5,"y":10.4},{"x":66.5,"y":10.7},{"x":67.5,"y":11.7},{"x":68.5,"y":10.7},{"x":69,"y":9.9}],
 "hkl": [{"x":9.43},{"x":13.63},{"x":15.05},{"x":15.12},{"x":19.1},{"x":19.69},{"x":20.25},{"x":20.35},{"x":21.03},{"x":21.56},{"x":21.9},{"x":22.85},{"x":23.06},{"x":23.23},{"x":25.08},{"x":25.16},{"x":26.6},{"x":26.68},{"x":27.57},{"x":28.05},{"x":28.57},{"x":28.91},{"x":30.25},{"x":30.35},{"x":30.63},{"x":31.35},{"x":32.0},{"x":33.08},{"x":33.76},{"x":34.93},{"x":35.1},{"x":35.25},{"x":35.62},{"x":36.04},{"x":36.2},{"x":36.5},{"x":36.75},{"x":37.0},{"x":37.5},{"x":37.65},{"x":38.07},{"x":38.9},{"x":40.1},{"x":40.27},{"x":40.6},{"x":40.8},{"x":41.1},{"x":41.25},{"x":41.4},{"x":41.55},{"x":41.7},{"x":41.96},{"x":42.97},{"x":44.0},{"x":44.1},{"x":44.2},{"x":44.4},{"x":44.74},{"x":44.9},{"x":45.3},{"x":45.5},{"x":45.78},{"x":46.55},{"x":46.65},{"x":46.8},{"x":46.95},{"x":47.15},{"x":47.5},{"x":47.75},{"x":48.35},{"x":48.5},{"x":48.6},{"x":48.75},{"x":48.9},{"x":49.2},{"x":49.4},{"x":49.9},{"x":50.1},{"x":50.25},{"x":50.4},{"x":50.85},{"x":51.0},{"x":51.6},{"x":51.7},{"x":51.85},{"x":52.1},{"x":52.4},{"x":52.6},{"x":52.8},{"x":53.26},{"x":53.7},{"x":53.8},{"x":53.9},{"x":54.05},{"x":54.2},{"x":54.3},{"x":54.5},{"x":54.7},{"x":54.9},{"x":55.1},{"x":55.3},{"x":55.5},{"x":55.76},{"x":56.4},{"x":56.6},{"x":56.75},{"x":56.9},{"x":57.3},{"x":57.65},{"x":57.9},{"x":58.25},{"x":58.4},{"x":58.77},{"x":59.4},{"x":59.5},{"x":59.65},{"x":59.8},{"x":60.0},{"x":60.1},{"x":60.3},{"x":60.45},{"x":60.6},{"x":60.85},{"x":61.0},{"x":61.2},{"x":61.4},{"x":61.5},{"x":61.7},{"x":61.85},{"x":62.0},{"x":62.2},{"x":62.5},{"x":63.0},{"x":63.1},{"x":63.25},{"x":63.4},{"x":63.5},{"x":63.65},{"x":63.8},{"x":64.0},{"x":64.2},{"x":64.35},{"x":64.7},{"x":65.05},{"x":65.15},{"x":65.3},{"x":65.5},{"x":65.8},{"x":66.1},{"x":66.4},{"x":66.6},{"x":66.9},{"x":67.1},{"x":67.3},{"x":67.5},{"x":67.6},{"x":67.75},{"x":67.9},{"x":68.1},{"x":68.3},{"x":68.5},{"x":68.6},{"x":68.75},{"x":69.0}],
 "bruc": [{"x":18.33},{"x":32.66},{"x":37.26},{"x":37.79},{"x":50.5},{"x":57.44},{"x":58.5},{"x":61.9},{"x":67.7},{"x":68.7}],
 "sfT": [{"x":5.5},{"x":6.15},{"x":6.79},{"x":7.44},{"x":8.08},{"x":8.73},{"x":9.37},{"x":10.02},{"x":10.66},{"x":11.31},{"x":11.95},{"x":12.6},{"x":13.24},{"x":13.89},{"x":14.53},{"x":15.18},{"x":15.82},{"x":16.47},{"x":17.11},{"x":17.76},{"x":18.4},{"x":19.05},{"x":19.69},{"x":20.34},{"x":20.98},{"x":21.63},{"x":22.27},{"x":22.92},{"x":23.56},{"x":24.21},{"x":24.85},{"x":25.5},{"x":26.14},{"x":26.79},{"x":27.43},{"x":28.08},{"x":28.72},{"x":29.37},{"x":30.01},{"x":30.66},{"x":31.3},{"x":31.95},{"x":32.59},{"x":33.24},{"x":33.88},{"x":34.53},{"x":35.17},{"x":35.82},{"x":36.46},{"x":37.11},{"x":37.75},{"x":38.4},{"x":39.04},{"x":39.69},{"x":40.33},{"x":40.98},{"x":41.62},{"x":42.27},{"x":42.91},{"x":43.56},{"x":44.2},{"x":44.85},{"x":45.49},{"x":46.14},{"x":46.78},{"x":47.43},{"x":48.07},{"x":48.72},{"x":49.36},{"x":50.01},{"x":50.65},{"x":51.3},{"x":51.94},{"x":52.59},{"x":53.23},{"x":53.88},{"x":54.52},{"x":55.17},{"x":55.81},{"x":56.46},{"x":57.1},{"x":57.75},{"x":58.39},{"x":59.04},{"x":59.68},{"x":60.33},{"x":60.97},{"x":61.62},{"x":62.26},{"x":62.91},{"x":63.55},{"x":64.2},{"x":64.84},{"x":65.49},{"x":66.13},{"x":66.78},{"x":67.42},{"x":68.07},{"x":68.71}],
 "sfR": [{"x":33.45},{"x":33.6},{"x":33.82},{"x":34.0},{"x":34.15},{"x":34.38},{"x":34.6},{"x":34.75},{"x":34.98},{"x":35.2},{"x":35.36},{"x":35.55},{"x":35.78},{"x":35.95},{"x":36.18},{"x":36.35},{"x":36.6},{"x":36.8},{"x":36.96},{"x":37.2},{"x":37.38},{"x":37.55},{"x":37.8},{"x":37.97},{"x":38.2},{"x":38.36},{"x":38.58},{"x":38.8},{"x":38.95},{"x":39.2},{"x":39.4},{"x":39.55},{"x":39.8},{"x":39.98},{"x":40.2},{"x":40.35},{"x":40.6},{"x":40.78},{"x":41.0},{"x":41.18},{"x":41.35},{"x":41.6},{"x":41.8},{"x":41.96},{"x":42.2},{"x":42.4},{"x":42.55},{"x":42.8},{"x":43.0},{"x":43.15},{"x":43.4},{"x":43.6},{"x":43.78},{"x":44.0},{"x":44.16},{"x":44.38},{"x":44.6},{"x":44.8},{"x":44.96},{"x":45.2},{"x":45.38},{"x":45.6},{"x":45.76},{"x":46.0},{"x":46.2},{"x":46.36},{"x":46.6},{"x":46.8},{"x":46.96},{"x":47.2},{"x":47.4},{"x":47.56},{"x":47.8},{"x":47.98},{"x":48.2},{"x":48.38},{"x":48.6},{"x":48.78},{"x":49.0},{"x":49.2},{"x":49.36},{"x":49.6},{"x":49.8},{"x":49.96},{"x":50.2},{"x":50.4},{"x":50.56},{"x":50.8},{"x":50.98},{"x":51.2},{"x":51.38},{"x":51.6},{"x":51.8},{"x":51.96},{"x":52.2},{"x":52.4},{"x":52.56},{"x":52.8},{"x":53.0},{"x":53.16},{"x":53.4},{"x":53.6},{"x":53.78},{"x":54.0},{"x":54.2},{"x":54.36},{"x":54.6},{"x":54.8},{"x":54.96},{"x":55.2},{"x":55.4},{"x":55.56},{"x":55.8},{"x":56.0},{"x":56.18},{"x":56.4},{"x":56.6},{"x":56.76},{"x":57.0},{"x":57.2},{"x":57.36},{"x":57.6},{"x":57.8},{"x":57.96},{"x":58.2}],
 "sfBand": [{"x":32.6,"x2":33.4},{"x":58.4,"x2":69.1}]
},
"vconcat": [
 {
  "width": 1268, "height": 275,
  "layer": [
   {"data": {"name": "meas"}, "mark": {"type": "line", "color": "#000000", "strokeWidth": 2, "clip": true},
    "encoding": {
     "x": {"field": "x", "type": "quantitative", "scale": {"domain": [3.87, 69.33], "nice": false, "zero": false}, "axis": {"title": null, "values": [5,6.25,7.5,8.75,10,11.25,12.5,13.75,15,16.25,17.5,18.75,20,21.25,22.5,23.75,25,26.25,27.5,28.75,30,31.25,32.5,33.75,35,36.25,37.5,38.75,40,41.25,42.5,43.75,45,46.25,47.5,48.75,50,51.25,52.5,53.75,55,56.25,57.5,58.75,60,61.25,62.5,63.75,65,66.25,67.5,68.75], "labelExpr": "datum.value % 5 === 0 ? datum.label : ''"}},
     "y": {"field": "y", "type": "quantitative", "scale": {"domain": [-20.4, 96.6], "nice": false, "zero": false}, "axis": {"title": "Counts", "values": [-20,-10,0,10,20,30,40,50,60,70,80,90], "labelExpr": "datum.value % 20 === 0 ? datum.label : ''"}}
    }},
   {"data": {"name": "hkl"}, "mark": {"type": "rule", "color": "#6b1e5f", "strokeWidth": 1.5},
    "encoding": {"x": {"field": "x", "type": "quantitative", "scale": {"domain": [3.87, 69.33], "nice": false, "zero": false}}, "y": {"datum": -18.6, "type": "quantitative", "scale": {"domain": [-20.4, 96.6], "nice": false, "zero": false}}, "y2": {"datum": -15.5}}},
   {"data": {"name": "bruc"}, "mark": {"type": "point", "shape": "triangle-up", "filled": true, "color": "#1f2db0", "size": 24, "opacity": 1},
    "encoding": {"x": {"field": "x", "type": "quantitative", "scale": {"domain": [3.87, 69.33], "nice": false, "zero": false}}, "y": {"datum": -19.2, "type": "quantitative", "scale": {"domain": [-20.4, 96.6], "nice": false, "zero": false}}}},
   {"data": {"name": "diffA"}, "mark": {"type": "line", "color": "#6e6e6e", "strokeWidth": 1.8, "clip": true},
    "encoding": {"x": {"field": "x", "type": "quantitative", "scale": {"domain": [3.87, 69.33], "nice": false, "zero": false}}, "y": {"field": "y", "type": "quantitative", "scale": {"domain": [-20.4, 96.6], "nice": false, "zero": false}}}},
   {"data": {"name": "calcA"}, "mark": {"type": "line", "color": "#e31414", "strokeWidth": 2.6, "clip": true},
    "encoding": {"x": {"field": "x", "type": "quantitative", "scale": {"domain": [3.87, 69.33], "nice": false, "zero": false}}, "y": {"field": "y", "type": "quantitative", "scale": {"domain": [-20.4, 96.6], "nice": false, "zero": false}}}},
   {"data": {"name": "bkgA"}, "mark": {"type": "line", "color": "#1f2db0", "strokeWidth": 2, "clip": true},
    "encoding": {"x": {"field": "x", "type": "quantitative", "scale": {"domain": [3.87, 69.33], "nice": false, "zero": false}}, "y": {"field": "y", "type": "quantitative", "scale": {"domain": [-20.4, 96.6], "nice": false, "zero": false}}}},
   {"data": {"values": [{"t": "Brucite no stacking faults"}]}, "mark": {"type": "text", "align": "left", "baseline": "alphabetic", "font": "Liberation Sans", "fontSize": 32, "color": "#2f5fb3"},
    "encoding": {"x": {"datum": 6.11, "type": "quantitative", "scale": {"domain": [3.87, 69.33], "nice": false, "zero": false}}, "y": {"datum": 89.5, "type": "quantitative", "scale": {"domain": [-20.4, 96.6], "nice": false, "zero": false}}, "text": {"field": "t"}}},
   {"data": {"values": [{"t": "Rwp: 17.8"}]}, "mark": {"type": "text", "align": "left", "baseline": "alphabetic", "font": "Liberation Sans", "fontSize": 32, "color": "#111111"},
    "encoding": {"x": {"datum": 42.6, "type": "quantitative", "scale": {"domain": [3.87, 69.33], "nice": false, "zero": false}}, "y": {"datum": 86.4, "type": "quantitative", "scale": {"domain": [-20.4, 96.6], "nice": false, "zero": false}}, "text": {"field": "t"}}},
   {"data": {"values": [{"t": "-"}]}, "mark": {"type": "text", "align": "left", "baseline": "alphabetic", "font": "Liberation Sans", "fontSize": 34, "color": "#111111"},
    "encoding": {"x": {"datum": 50.5, "type": "quantitative", "scale": {"domain": [3.87, 69.33], "nice": false, "zero": false}}, "y": {"datum": 113.9, "type": "quantitative", "scale": {"domain": [-20.4, 96.6], "nice": false, "zero": false}}, "text": {"field": "t"}}},
   {"data": {"values": [{"t": "Measured"}]}, "mark": {"type": "text", "align": "left", "baseline": "alphabetic", "font": "Liberation Sans", "fontSize": 34, "color": "#111111"},
    "encoding": {"x": {"datum": 52.66, "type": "quantitative", "scale": {"domain": [3.87, 69.33], "nice": false, "zero": false}}, "y": {"datum": 113.9, "type": "quantitative", "scale": {"domain": [-20.4, 96.6], "nice": false, "zero": false}}, "text": {"field": "t"}}},
   {"data": {"values": [{"t": "-"}]}, "mark": {"type": "text", "align": "left", "baseline": "alphabetic", "font": "Liberation Sans", "fontSize": 34, "color": "#e30000"},
    "encoding": {"x": {"datum": 50.5, "type": "quantitative", "scale": {"domain": [3.87, 69.33], "nice": false, "zero": false}}, "y": {"datum": 95.9, "type": "quantitative", "scale": {"domain": [-20.4, 96.6], "nice": false, "zero": false}}, "text": {"field": "t"}}},
   {"data": {"values": [{"t": "Calculated"}]}, "mark": {"type": "text", "align": "left", "baseline": "alphabetic", "font": "Liberation Sans", "fontSize": 34, "color": "#e30000"},
    "encoding": {"x": {"datum": 52.66, "type": "quantitative", "scale": {"domain": [3.87, 69.33], "nice": false, "zero": false}}, "y": {"datum": 95.9, "type": "quantitative", "scale": {"domain": [-20.4, 96.6], "nice": false, "zero": false}}, "text": {"field": "t"}}},
   {"data": {"values": [{"t": "a"}]}, "mark": {"type": "text", "align": "center", "baseline": "alphabetic", "font": "Liberation Sans", "fontSize": 46, "color": "#111111"},
    "encoding": {"x": {"datum": 65.74, "type": "quantitative", "scale": {"domain": [3.87, 69.33], "nice": false, "zero": false}}, "y": {"datum": 88.8, "type": "quantitative", "scale": {"domain": [-20.4, 96.6], "nice": false, "zero": false}}, "text": {"field": "t"}}}
  ]
 },
 {
  "width": 1265, "height": 238,
  "layer": [
   {"data": {"name": "meas"}, "mark": {"type": "line", "color": "#000000", "strokeWidth": 2.4, "clip": true},
    "encoding": {
     "x": {"field": "x", "type": "quantitative", "scale": {"domain": [3.81, 69.19], "nice": false, "zero": false}, "axis": {"title": null, "values": [5,6.25,7.5,8.75,10,11.25,12.5,13.75,15,16.25,17.5,18.75,20,21.25,22.5,23.75,25,26.25,27.5,28.75,30,31.25,32.5,33.75,35,36.25,37.5,38.75,40,41.25,42.5,43.75,45,46.25,47.5,48.75,50,51.25,52.5,53.75,55,56.25,57.5,58.75,60,61.25,62.5,63.75,65,66.25,67.5,68.75], "labelExpr": "datum.value % 5 === 0 ? datum.label : ''"}},
     "y": {"field": "y", "type": "quantitative", "scale": {"domain": [-22.5, 97.4], "nice": false, "zero": false}, "axis": {"title": "Counts", "values": [-20,-10,0,10,20,30,40,50,60,70,80,90], "labelExpr": "datum.value % 20 === 0 ? datum.label : ''"}}
    }},
   {"data": {"name": "hkl"}, "mark": {"type": "rule", "color": "#6b1e5f", "strokeWidth": 1.5},
    "encoding": {"x": {"field": "x", "type": "quantitative", "scale": {"domain": [3.81, 69.19], "nice": false, "zero": false}}, "y": {"datum": -18.7, "type": "quantitative", "scale": {"domain": [-22.5, 97.4], "nice": false, "zero": false}}, "y2": {"datum": -15}}},
   {"data": {"name": "sfBand"}, "mark": {"type": "rect", "color": "#5cc01e"},
    "encoding": {"x": {"field": "x", "type": "quantitative", "scale": {"domain": [3.81, 69.19], "nice": false, "zero": false}}, "x2": {"field": "x2"}, "y": {"datum": -22.5, "type": "quantitative", "scale": {"domain": [-22.5, 97.4], "nice": false, "zero": false}}, "y2": {"datum": -21.2}}},
   {"data": {"name": "sfR"}, "mark": {"type": "rule", "color": "#5cc01e", "strokeWidth": 1.2},
    "encoding": {"x": {"field": "x", "type": "quantitative", "scale": {"domain": [3.81, 69.19], "nice": false, "zero": false}}, "y": {"datum": -22.5, "type": "quantitative", "scale": {"domain": [-22.5, 97.4], "nice": false, "zero": false}}, "y2": {"datum": -20.6}}},
   {"data": {"name": "sfT"}, "mark": {"type": "point", "shape": "M-0.5,1L0,-1L0.5,1Z", "filled": true, "color": "#5cc01e", "size": 60, "opacity": 1},
    "encoding": {"x": {"field": "x", "type": "quantitative", "scale": {"domain": [3.81, 69.19], "nice": false, "zero": false}}, "y": {"datum": -20.6, "type": "quantitative", "scale": {"domain": [-22.5, 97.4], "nice": false, "zero": false}}}},
   {"data": {"name": "diffB"}, "mark": {"type": "line", "color": "#6e6e6e", "strokeWidth": 1.5, "clip": true},
    "encoding": {"x": {"field": "x", "type": "quantitative", "scale": {"domain": [3.81, 69.19], "nice": false, "zero": false}}, "y": {"field": "y", "type": "quantitative", "scale": {"domain": [-22.5, 97.4], "nice": false, "zero": false}}}},
   {"data": {"name": "calcB"}, "mark": {"type": "line", "color": "#e31414", "strokeWidth": 2.6, "clip": true},
    "encoding": {"x": {"field": "x", "type": "quantitative", "scale": {"domain": [3.81, 69.19], "nice": false, "zero": false}}, "y": {"field": "y", "type": "quantitative", "scale": {"domain": [-22.5, 97.4], "nice": false, "zero": false}}}},
   {"data": {"name": "oraB"}, "mark": {"type": "line", "color": "#dba322", "strokeWidth": 2, "clip": true},
    "encoding": {"x": {"field": "x", "type": "quantitative", "scale": {"domain": [3.81, 69.19], "nice": false, "zero": false}}, "y": {"field": "y", "type": "quantitative", "scale": {"domain": [-22.5, 97.4], "nice": false, "zero": false}}}},
   {"data": {"name": "bkgB"}, "mark": {"type": "line", "color": "#62bd27", "strokeWidth": 2, "clip": true},
    "encoding": {"x": {"field": "x", "type": "quantitative", "scale": {"domain": [3.81, 69.19], "nice": false, "zero": false}}, "y": {"field": "y", "type": "quantitative", "scale": {"domain": [-22.5, 97.4], "nice": false, "zero": false}}}},
   {"data": {"values": [{"t": "Brucite\u00a0 stacking faults in x, y direction"}]}, "mark": {"type": "text", "align": "left", "baseline": "alphabetic", "font": "Liberation Sans", "fontSize": 32, "color": "#79b34a"},
    "encoding": {"x": {"datum": 5.45, "type": "quantitative", "scale": {"domain": [3.81, 69.19], "nice": false, "zero": false}}, "y": {"datum": 74.7, "type": "quantitative", "scale": {"domain": [-22.5, 97.4], "nice": false, "zero": false}}, "text": {"field": "t"}}},
   {"data": {"values": [{"t": "Rwp: 15.6"}]}, "mark": {"type": "text", "align": "left", "baseline": "alphabetic", "font": "Liberation Sans", "fontSize": 32, "color": "#111111"},
    "encoding": {"x": {"datum": 42.57, "type": "quantitative", "scale": {"domain": [3.81, 69.19], "nice": false, "zero": false}}, "y": {"datum": 72.2, "type": "quantitative", "scale": {"domain": [-22.5, 97.4], "nice": false, "zero": false}}, "text": {"field": "t"}}},
   {"data": {"values": [{"t": "b"}]}, "mark": {"type": "text", "align": "center", "baseline": "alphabetic", "font": "Liberation Sans", "fontSize": 46, "color": "#111111"},
    "encoding": {"x": {"datum": 65.77, "type": "quantitative", "scale": {"domain": [3.81, 69.19], "nice": false, "zero": false}}, "y": {"datum": 64.3, "type": "quantitative", "scale": {"domain": [-22.5, 97.4], "nice": false, "zero": false}}, "text": {"field": "t"}}}
  ]
 },
 {
  "width": 1271, "height": 279,
  "layer": [
   {"data": {"name": "meas"}, "mark": {"type": "line", "color": "#000000", "strokeWidth": 2.4, "clip": true},
    "encoding": {
     "x": {"field": "x", "type": "quantitative", "scale": {"domain": [3.84, 69.0], "nice": false, "zero": false}, "axis": {"title": "° 2 Theta CuKalpha", "titleX": 747, "titlePadding": 10, "values": [5,6.25,7.5,8.75,10,11.25,12.5,13.75,15,16.25,17.5,18.75,20,21.25,22.5,23.75,25,26.25,27.5,28.75,30,31.25,32.5,33.75,35,36.25,37.5,38.75,40,41.25,42.5,43.75,45,46.25,47.5,48.75,50,51.25,52.5,53.75,55,56.25,57.5,58.75,60,61.25,62.5,63.75,65,66.25,67.5,68.75], "labelExpr": "datum.value % 5 === 0 ? datum.label : ''"}},
     "y": {"field": "y", "type": "quantitative", "scale": {"domain": [-0.95, 97.6], "nice": false, "zero": false}, "axis": {"title": "Counts", "values": [0,10,20,30,40,50,60,70,80,90], "labelExpr": "datum.value % 20 === 0 ? datum.label : ''"}}
    }},
   {"data": {"name": "hkl"}, "mark": {"type": "rule", "color": "#6b1e5f", "strokeWidth": 1.5},
    "encoding": {"x": {"field": "x", "type": "quantitative", "scale": {"domain": [3.84, 69.0], "nice": false, "zero": false}}, "y": {"datum": 1.3, "type": "quantitative", "scale": {"domain": [-0.95, 97.6], "nice": false, "zero": false}}, "y2": {"datum": 3.8}}},
   {"data": {"name": "sfBand"}, "mark": {"type": "rect", "color": "#5cc01e", "clip": true},
    "encoding": {"x": {"field": "x", "type": "quantitative", "scale": {"domain": [3.84, 69.0], "nice": false, "zero": false}}, "x2": {"field": "x2"}, "y": {"datum": -0.95, "type": "quantitative", "scale": {"domain": [-0.95, 97.6], "nice": false, "zero": false}}, "y2": {"datum": 0.0}}},
   {"data": {"name": "sfR"}, "mark": {"type": "rule", "color": "#5cc01e", "strokeWidth": 1.2},
    "encoding": {"x": {"field": "x", "type": "quantitative", "scale": {"domain": [3.84, 69.0], "nice": false, "zero": false}}, "y": {"datum": -0.95, "type": "quantitative", "scale": {"domain": [-0.95, 97.6], "nice": false, "zero": false}}, "y2": {"datum": 0.5}}},
   {"data": {"name": "sfT"}, "mark": {"type": "point", "shape": "M-0.5,1L0,-1L0.5,1Z", "filled": true, "color": "#5cc01e", "size": 60, "opacity": 1},
    "encoding": {"x": {"field": "x", "type": "quantitative", "scale": {"domain": [3.84, 69.0], "nice": false, "zero": false}}, "y": {"datum": 0.45, "type": "quantitative", "scale": {"domain": [-0.95, 97.6], "nice": false, "zero": false}}}},
   {"data": {"name": "diffC"}, "mark": {"type": "line", "color": "#6e6e6e", "strokeWidth": 2, "clip": true},
    "encoding": {"x": {"field": "x", "type": "quantitative", "scale": {"domain": [3.84, 69.0], "nice": false, "zero": false}}, "y": {"field": "y", "type": "quantitative", "scale": {"domain": [-0.95, 97.6], "nice": false, "zero": false}}}},
   {"data": {"name": "calcC"}, "mark": {"type": "line", "color": "#e31414", "strokeWidth": 2.6, "clip": true},
    "encoding": {"x": {"field": "x", "type": "quantitative", "scale": {"domain": [3.84, 69.0], "nice": false, "zero": false}}, "y": {"field": "y", "type": "quantitative", "scale": {"domain": [-0.95, 97.6], "nice": false, "zero": false}}}},
   {"data": {"name": "oraC"}, "mark": {"type": "line", "color": "#dba322", "strokeWidth": 2, "clip": true},
    "encoding": {"x": {"field": "x", "type": "quantitative", "scale": {"domain": [3.84, 69.0], "nice": false, "zero": false}}, "y": {"field": "y", "type": "quantitative", "scale": {"domain": [-0.95, 97.6], "nice": false, "zero": false}}}},
   {"data": {"name": "bkgC"}, "mark": {"type": "line", "color": "#62bd27", "strokeWidth": 2, "clip": true},
    "encoding": {"x": {"field": "x", "type": "quantitative", "scale": {"domain": [3.84, 69.0], "nice": false, "zero": false}}, "y": {"field": "y", "type": "quantitative", "scale": {"domain": [-0.95, 97.6], "nice": false, "zero": false}}}},
   {"data": {"values": [{"t": "Brucite\u00a0 stacking faults in x, y, z direction"}]}, "mark": {"type": "text", "align": "left", "baseline": "alphabetic", "font": "Liberation Sans", "fontSize": 32, "color": "#79b34a"},
    "encoding": {"x": {"datum": 5.8, "type": "quantitative", "scale": {"domain": [3.84, 69.0], "nice": false, "zero": false}}, "y": {"datum": 82.6, "type": "quantitative", "scale": {"domain": [-0.95, 97.6], "nice": false, "zero": false}}, "text": {"field": "t"}}},
   {"data": {"values": [{"t": "Rwp: 6.8"}]}, "mark": {"type": "text", "align": "left", "baseline": "alphabetic", "font": "Liberation Sans", "fontSize": 32, "color": "#111111"},
    "encoding": {"x": {"datum": 42.47, "type": "quantitative", "scale": {"domain": [3.84, 69.0], "nice": false, "zero": false}}, "y": {"datum": 78.8, "type": "quantitative", "scale": {"domain": [-0.95, 97.6], "nice": false, "zero": false}}, "text": {"field": "t"}}},
   {"data": {"values": [{"t": "c"}]}, "mark": {"type": "text", "align": "center", "baseline": "alphabetic", "font": "Liberation Sans", "fontSize": 46, "color": "#111111"},
    "encoding": {"x": {"datum": 65.12, "type": "quantitative", "scale": {"domain": [3.84, 69.0], "nice": false, "zero": false}}, "y": {"datum": 74.7, "type": "quantitative", "scale": {"domain": [-0.95, 97.6], "nice": false, "zero": false}}, "text": {"field": "t"}}}
  ]
 }
],
"spacing": 42,
"bounds": "flush"
}
